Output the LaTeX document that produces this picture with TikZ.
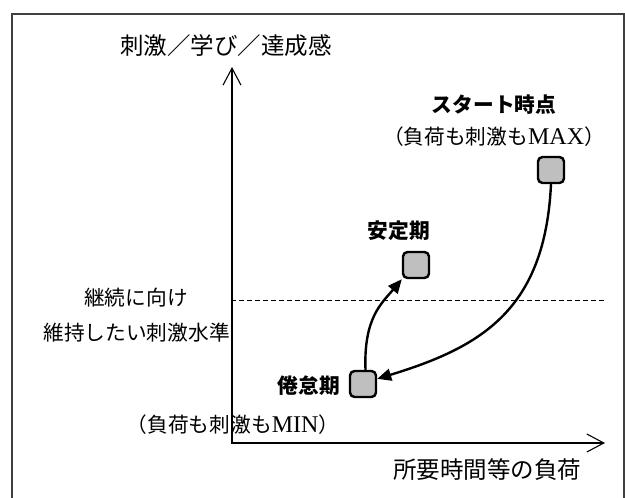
\documentclass[tikz,border=0pt]{standalone}
\usepackage{fontspec}
\setmainfont{Noto Sans CJK JP}
\newfontfamily\lat{Liberation Serif}
\usetikzlibrary{arrows.meta}
\newcommand{\latbig}[1]{{\lat\fontsize{24}{24}\selectfont #1}}
\begin{document}
\begin{tikzpicture}[x=1pt,y=-1pt,
  txt/.style={inner sep=0pt, font=\fontsize{20.7}{22}\selectfont},
  bigtxt/.style={inner sep=0pt, font=\fontsize{23.5}{25}\selectfont},
  boldtxt/.style={inner sep=0pt, font=\fontsize{20.7}{22}\selectfont\bfseries},
  ptbox/.style={draw=black, fill=gray!50, line width=2.4pt, rounded corners=4.5pt, minimum size=26pt, inner sep=0pt},
  axisline/.style={line width=1.1pt, -{Straight Barb[length=17pt,width=18pt]}},
  flow/.style={line width=2.4pt, -{Triangle[length=14pt,width=12pt]}},
  frame/.style={draw=black!75, line width=2pt}]
\useasboundingbox (0,0) rectangle (625,498);
\draw[frame] (12,14) rectangle (624,520);
% axes
\coordinate (ybase) at (232,444);
\coordinate (ytip) at (232,67);
\coordinate (xbase) at (231,443);
\coordinate (xtip) at (605,443);
\draw[axisline] (ybase) -- (ytip);
\draw[axisline] (xbase) -- (xtip);
% dashed level
\coordinate (dl) at (231,300);
\coordinate (dr) at (606,300);
\draw[line width=0.9pt, dash pattern=on 5pt off 3pt] (dl) -- (dr);
% boxes
\node[ptbox] (start) at (551,170) {};
\node[ptbox] (stable) at (416,265) {};
\node[ptbox] (bored) at (363,384) {};
% labels
\node[bigtxt] (ylab) at (226,46) {刺激／学び／達成感};
\node[boldtxt] (startlab) at (494,105) {スタート時点};
\node[txt] (maxlab) at (494,137) {（負荷も刺激も\latbig{MAX}）};
\node[boldtxt] (stablelab) at (399,231) {安定期};
\node[txt] (keep1) at (136,298) {継続に向け};
\node[txt, anchor=east] (keep2) at (230,333) {維持したい刺激水準};
\node[boldtxt, anchor=east] (boredlab) at (340,386) {倦怠期};
\node[txt] (minlab) at (233,425) {（負荷も刺激も\latbig{MIN}）};
\node[bigtxt] (xlab) at (487,470) {所要時間等の負荷};
% flows
\draw[flow] (start.south) .. controls +(-6,125) and +(105,-32) .. (bored.20);
\draw[flow] (bored.80) .. controls +(-2,-52) and +(-20,24) .. (stable.south west);
\end{tikzpicture}
\end{document}
